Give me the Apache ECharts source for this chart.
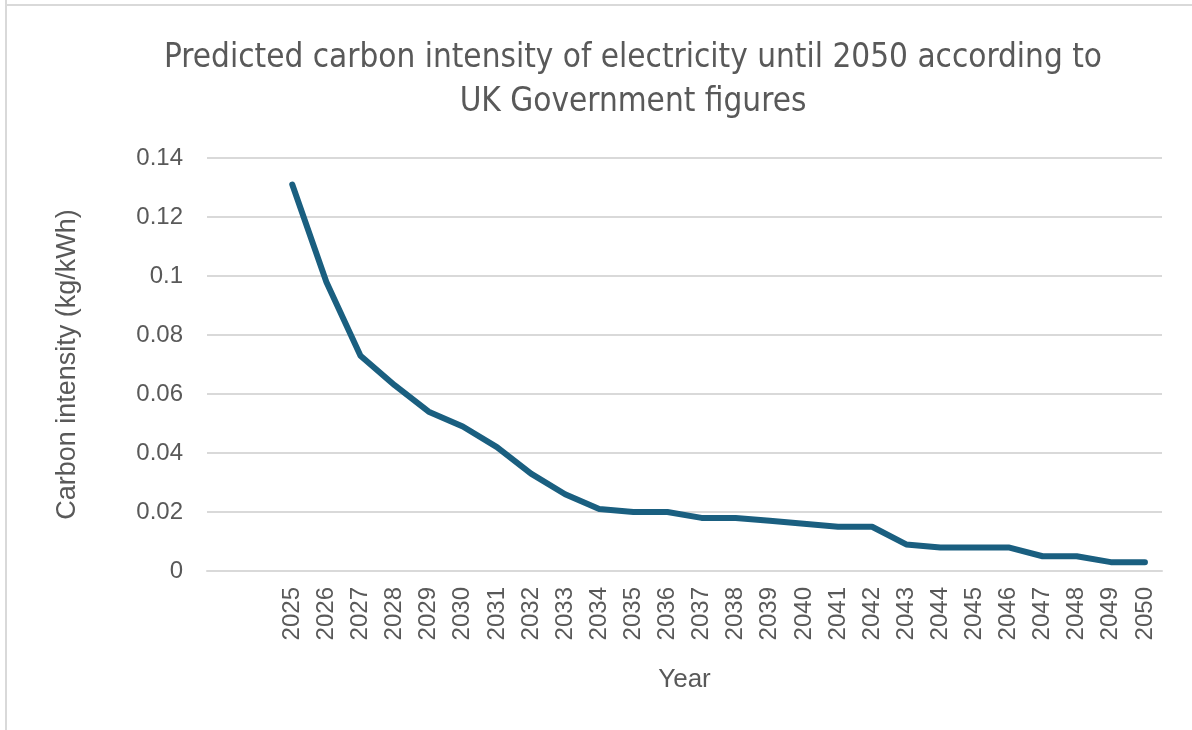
<!DOCTYPE html>
<html>
<head>
<meta charset="utf-8">
<script src="https://cdn.jsdelivr.net/npm/echarts@6/dist/echarts.min.js"></script>
<style>
html,body{margin:0;padding:0;background:#fff;}
#chart{width:1192px;height:730px;}
</style>
</head>
<body>
<div id="chart"></div>
<script>
const titleText = 'Predicted carbon intensity of electricity until 2050 according to\nUK Government figures';
const yAxisName = 'Carbon intensity (kg/kWh)';
const xAxisName = 'Year';
const categories = ['', '', '2025','2026','2027','2028','2029','2030','2031','2032','2033','2034','2035','2036','2037','2038','2039','2040','2041','2042','2043','2044','2045','2046','2047','2048','2049','2050'];
const intensity = [null, null, 0.131,0.098,0.073,0.063,0.054,0.049,0.042,0.033,0.026,0.021,0.020,0.020,0.018,0.018,0.017,0.016,0.015,0.015,0.009,0.008,0.008,0.008,0.005,0.005,0.003,0.003];
const yTicks = {min: 0, max: 0.14, interval: 0.02};

const chart = echarts.init(document.getElementById('chart'), null, {renderer: 'canvas'});
const txt = '#595959';
chart.setOption({
  animation: false,
  backgroundColor: '#fff',
  graphic: [
    {type: 'line', shape: {x1: 6, y1: 0, x2: 6, y2: 730}, style: {stroke: '#d9d9d9', lineWidth: 2}},
    {type: 'line', shape: {x1: 6, y1: 5, x2: 1192, y2: 5}, style: {stroke: '#d9d9d9', lineWidth: 2}}
  ],
  title: {
    text: titleText,
    left: 628,
    top: 31,
    textAlign: 'center',
    textStyle: {
      fontFamily: '"Liberation Sans Narrow", "DejaVu Sans Condensed", sans-serif',
      fontSize: 33,
      fontWeight: 'normal',
      color: txt,
      lineHeight: 44
    }
  },
  grid: {left: 207, right: 30, top: 158, bottom: 159, containLabel: false},
  xAxis: {
    type: 'category',
    data: categories,
    boundaryGap: true,
    name: xAxisName,
    nameLocation: 'middle',
    nameGap: 96,
    nameTextStyle: {fontFamily: '"Liberation Sans", Arial, sans-serif', fontSize: 26, color: txt},
    axisLine: {show: true, lineStyle: {color: '#d9d9d9', width: 2}},
    axisTick: {show: false},
    axisLabel: {
      rotate: 90,
      interval: 0,
      margin: 16,
      fontFamily: '"Liberation Sans", Arial, sans-serif',
      fontSize: 24,
      color: txt
    }
  },
  yAxis: {
    type: 'value',
    min: yTicks.min,
    max: yTicks.max,
    interval: yTicks.interval,
    name: yAxisName,
    nameLocation: 'middle',
    nameGap: 126,
    nameTextStyle: {fontFamily: '"Liberation Sans", Arial, sans-serif', fontSize: 27, color: txt},
    axisLine: {show: false},
    axisTick: {show: false},
    splitLine: {show: true, lineStyle: {color: '#d9d9d9', width: 2}},
    axisLabel: {
      margin: 24,
      fontFamily: '"Liberation Sans", Arial, sans-serif',
      fontSize: 24,
      color: txt,
      formatter: function (v) { return String(Math.round(v * 100) / 100); }
    }
  },
  series: [{
    type: 'line',
    data: intensity,
    symbol: 'none',
    connectNulls: false,
    lineStyle: {color: '#1a5f80', width: 6, cap: 'round', join: 'round'}
  }]
});
</script>
</body>
</html>
